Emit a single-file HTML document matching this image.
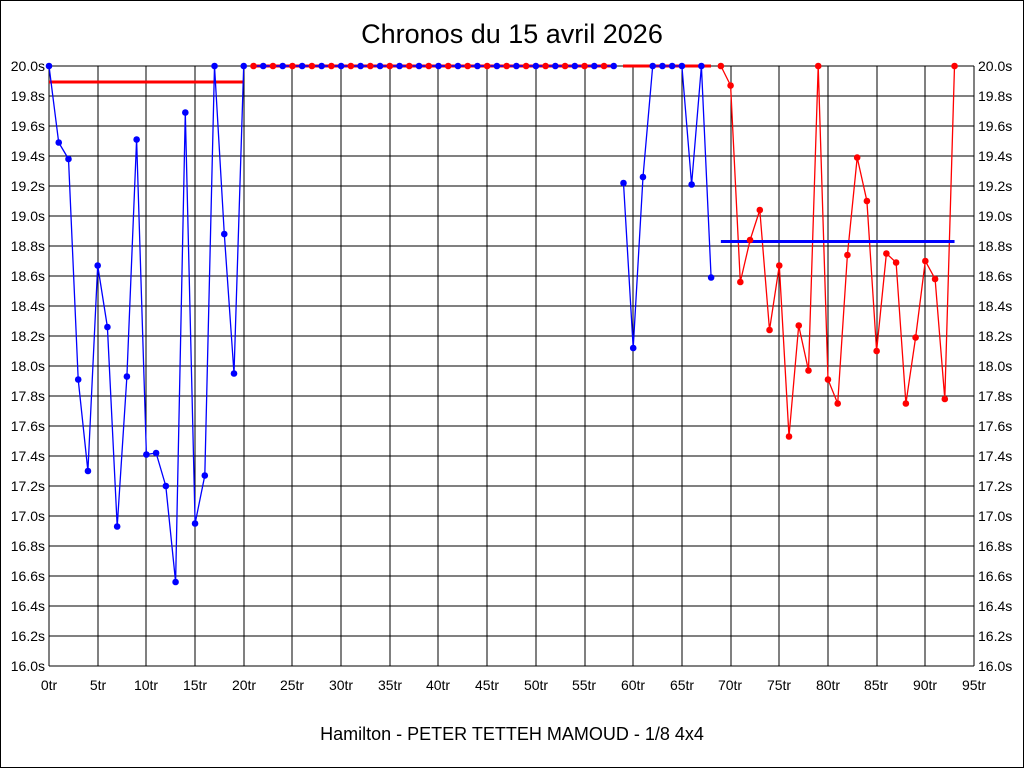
<!DOCTYPE html>
<html><head><meta charset="utf-8"><style>
html,body{margin:0;padding:0;background:#fff}
svg{display:block}
text{font-family:"Liberation Sans",sans-serif;fill:#000}
</style></head><body>
<svg id="s" width="1024" height="768" viewBox="0 0 1024 768" xmlns="http://www.w3.org/2000/svg">
<rect x="0.5" y="0.5" width="1023" height="767" fill="#fff" stroke="#000"/>
<g id="grid"></g>
<text x="512" y="43" font-size="27" text-anchor="middle">Chronos du 15 avril 2026</text>
<text x="512" y="740" font-size="18" text-anchor="middle">Hamilton - PETER TETTEH MAMOUD - 1/8 4x4</text>
<g font-size="14" text-anchor="end">
<text x="45" y="71">20.0s</text><text x="45" y="101">19.8s</text><text x="45" y="131">19.6s</text><text x="45" y="161">19.4s</text><text x="45" y="191">19.2s</text><text x="45" y="221">19.0s</text><text x="45" y="251">18.8s</text><text x="45" y="281">18.6s</text><text x="45" y="311">18.4s</text><text x="45" y="341">18.2s</text><text x="45" y="371">18.0s</text><text x="45" y="401">17.8s</text><text x="45" y="431">17.6s</text><text x="45" y="461">17.4s</text><text x="45" y="491">17.2s</text><text x="45" y="521">17.0s</text><text x="45" y="551">16.8s</text><text x="45" y="581">16.6s</text><text x="45" y="611">16.4s</text><text x="45" y="641">16.2s</text><text x="45" y="671">16.0s</text>
</g>
<g font-size="14" text-anchor="start">
<text x="978" y="71">20.0s</text><text x="978" y="101">19.8s</text><text x="978" y="131">19.6s</text><text x="978" y="161">19.4s</text><text x="978" y="191">19.2s</text><text x="978" y="221">19.0s</text><text x="978" y="251">18.8s</text><text x="978" y="281">18.6s</text><text x="978" y="311">18.4s</text><text x="978" y="341">18.2s</text><text x="978" y="371">18.0s</text><text x="978" y="401">17.8s</text><text x="978" y="431">17.6s</text><text x="978" y="461">17.4s</text><text x="978" y="491">17.2s</text><text x="978" y="521">17.0s</text><text x="978" y="551">16.8s</text><text x="978" y="581">16.6s</text><text x="978" y="611">16.4s</text><text x="978" y="641">16.2s</text><text x="978" y="671">16.0s</text>
</g>
<g font-size="14" text-anchor="middle">
<text x="49" y="690">0tr</text><text x="98" y="690">5tr</text><text x="146" y="690">10tr</text><text x="195" y="690">15tr</text><text x="244" y="690">20tr</text><text x="292" y="690">25tr</text><text x="341" y="690">30tr</text><text x="390" y="690">35tr</text><text x="438" y="690">40tr</text><text x="487" y="690">45tr</text><text x="536" y="690">50tr</text><text x="584" y="690">55tr</text><text x="633" y="690">60tr</text><text x="682" y="690">65tr</text><text x="730" y="690">70tr</text><text x="779" y="690">75tr</text><text x="828" y="690">80tr</text><text x="876" y="690">85tr</text><text x="925" y="690">90tr</text><text x="974" y="690">95tr</text>
</g>
<g id="data"></g>
</svg>
<script>
var NS="http://www.w3.org/2000/svg";
function X(t){return 49+t*9.737}
function Y(v){return 66+(20-v)*150}
function el(p,n,a){var e=document.createElementNS(NS,n);for(var k in a)e.setAttribute(k,a[k]);p.appendChild(e);return e}
var g=document.getElementById('grid'),d=document.getElementById('data');
for(var i=0;i<=20;i++){var y=66+i*30;el(g,'line',{x1:49,x2:974,y1:y,y2:y,stroke:'#000','stroke-width':1})}
for(var i=0;i<=19;i++){var x=Math.round(X(i*5));el(g,'line',{x1:x,x2:x,y1:66,y2:666,stroke:'#000','stroke-width':1})}
function line(pts,c,w){el(d,'polyline',{points:pts.map(function(p){return X(p[0]).toFixed(1)+','+Y(p[1]).toFixed(1)}).join(' '),fill:'none',stroke:c,'stroke-width':w})}
function dots(pts,c){pts.forEach(function(p){el(d,'circle',{cx:X(p[0]),cy:Y(p[1]),r:3.3,fill:c})})}
var b1=[[0,20],[1,19.49],[2,19.38],[3,17.91],[4,17.30],[5,18.67],[6,18.26],[7,16.93],[8,17.93],[9,19.51],[10,17.41],[11,17.42],[12,17.20],[13,16.56],[14,19.69],[15,16.95],[16,17.27],[17,20],[18,18.88],[19,17.95],[20,20]];
// red mean line 0-20
el(d,'line',{x1:49,x2:X(20),y1:82,y2:82,stroke:'#f00','stroke-width':3});
line(b1,'#00f',1.3);dots(b1,'#00f');
// top run 21..58
el(d,'line',{x1:X(21),x2:X(58),y1:66,y2:66,stroke:'#f00','stroke-width':3});
el(d,'line',{x1:X(21),x2:X(58),y1:66,y2:66,stroke:'#00f','stroke-width':1.5});
for(var t=21;t<=58;t++){el(d,'circle',{cx:X(t),cy:66,r:3.3,fill:(t%2?'#f00':'#00f')})}
// red line 59-69 at top
el(d,'line',{x1:623,x2:711,y1:66,y2:66,stroke:'#f00','stroke-width':3});
var b2=[[59,19.22],[60,18.12],[61,19.26],[62,20],[63,20],[64,20],[65,20],[66,19.21],[67,20],[68,18.59]];
line(b2,'#00f',1.3);dots(b2,'#00f');
var r=[[69,20],[70,19.87],[71,18.56],[72,18.84],[73,19.04],[74,18.24],[75,18.67],[76,17.53],[77,18.27],[78,17.97],[79,20],[80,17.91],[81,17.75],[82,18.74],[83,19.39],[84,19.10],[85,18.10],[86,18.75],[87,18.69],[88,17.75],[89,18.19],[90,18.70],[91,18.58],[92,17.78],[93,20]];
line(r,'#f00',1.3);
el(d,'line',{x1:X(69),x2:X(93),y1:Y(18.83),y2:Y(18.83),stroke:'#00f','stroke-width':3});
dots(r,'#f00');
</script>
</body></html>
